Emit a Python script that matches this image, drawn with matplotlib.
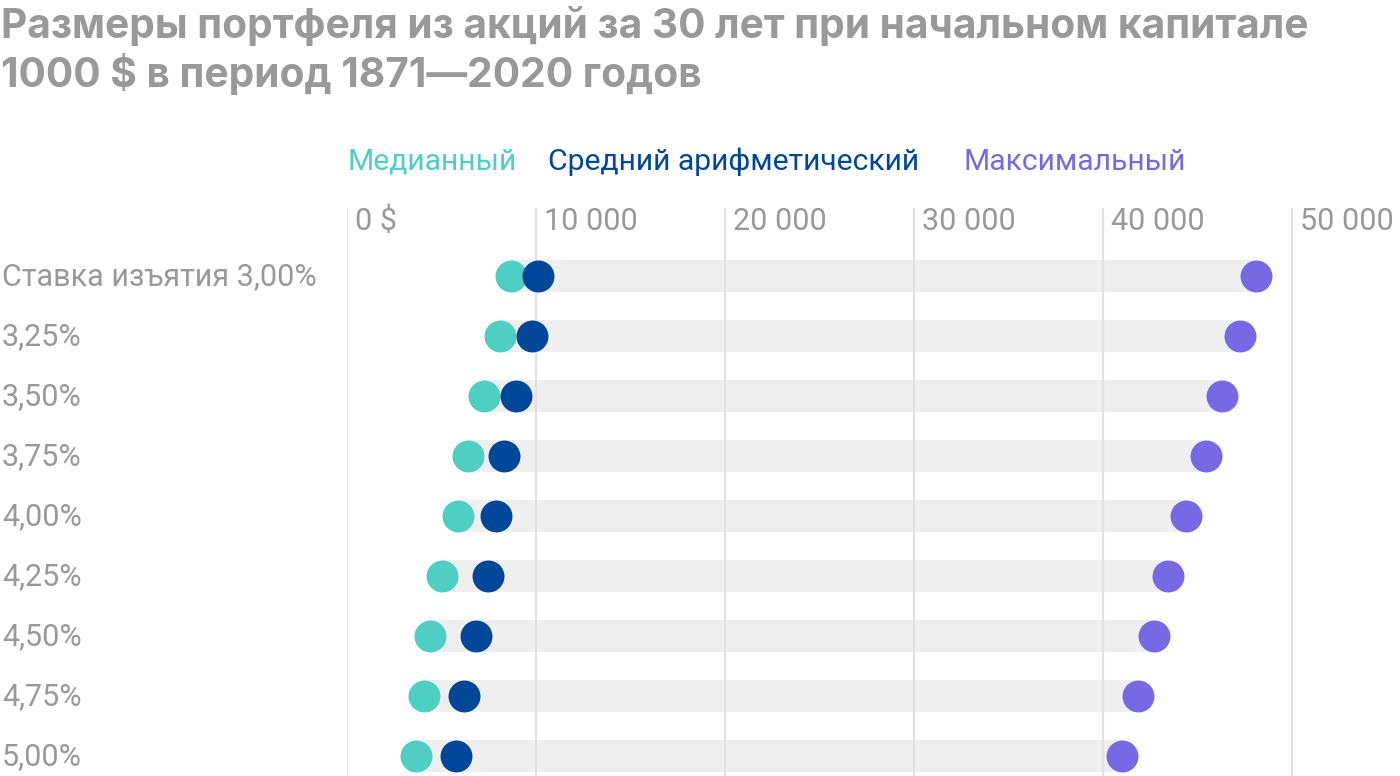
import matplotlib
matplotlib.use("Agg")
import matplotlib.pyplot as plt
import matplotlib.transforms as mtransforms

plt.rcParams['font.family'] = ['Roboto', 'DejaVu Sans']

# ---- data ----
categories = ["Ставка изъятия 3,00%", "3,25%", "3,50%", "3,75%", "4,00%",
              "4,25%", "4,50%", "4,75%", "5,00%"]
median_vals = [8700, 8100, 7250, 6400, 5870, 5030, 4390, 4080, 3650]
mean_vals = [10100, 9770, 8940, 8300, 7880, 7460, 6830, 6190, 5770]
max_vals = [48100, 47250, 46300, 45450, 44390, 43440, 42700, 41850, 41000]
tick_values = [0, 10000, 20000, 30000, 40000, 50000]
tick_labels = ["0 $", "10 000", "20 000", "30 000", "40 000", "50 000"]
series_names = ["Медианный", "Средний арифметический", "Максимальный"]
title = "Размеры портфеля из акций за 30 лет при начальном капитале\n1000 $ в период 1871—2020 годов"

# ---- style ----
W, H = 1400, 776
C_MED = "#4fcec4"
C_MEAN = "#00479a"
C_MAX = "#7868e3"
GRAY = "#999999"
BAR = "#efefef"
GRID = "#e2e2e2"
FS = 22.0

fig = plt.figure(figsize=(W / 100, H / 100), dpi=100)

# axes: x 0 -> px 347, 50000 -> px 1292
px_per_unit = (1292 - 347) / 50000
ax_left, ax_right = 347, 1400
ax_top, ax_bot = 208, 776
ax = fig.add_axes([ax_left / W, 1 - ax_bot / H, (ax_right - ax_left) / W, (ax_bot - ax_top) / H])
ax.set_xlim(0, (ax_right - ax_left) / px_per_unit)
row_px = 60
ax.set_ylim(8 + (ax_bot - 756) / row_px, 0 - (276 - ax_top) / row_px)
ax.axis("off")

y = list(range(len(categories)))
# background bars from median to max
ax.barh(y, [mx - md for mx, md in zip(max_vals, median_vals)], left=median_vals,
        height=32 / row_px, color=BAR, zorder=1)
# vertical grid lines
for tv in tick_values:
    ax.axvline(tv, color=GRID, lw=1.6, zorder=2)
# tick labels
for tv, tl in zip(tick_values, tick_labels):
    ax.text(tv + 8 / px_per_unit, -1.133 + (230 - ax_top) / row_px, tl, color=GRAY,
            fontsize=FS, ha="left", va="baseline", zorder=3)

ms = 23
ax.scatter(median_vals, y, s=ms ** 2, color=C_MED, zorder=4, linewidths=0)
ax.scatter(mean_vals, y, s=ms ** 2, color=C_MEAN, zorder=5, linewidths=0)
ax.scatter(max_vals, y, s=ms ** 2, color=C_MAX, zorder=5, linewidths=0)

# category labels
trans = mtransforms.blended_transform_factory(fig.transFigure, ax.transData)
for i, c in enumerate(categories):
    ax.text(2 / W, i + 9 / row_px, c, transform=trans, color=GRAY, fontsize=FS,
            ha="left", va="baseline", clip_on=False)

# legend
for name, col, xp in zip(series_names, [C_MED, C_MEAN, C_MAX], [348, 548, 963]):
    fig.text(xp / W, 1 - 170 / H, name, color=col, fontsize=21.7, ha="left", va="baseline")

# title
lines = title.split("\n")
for line, bl in zip(lines, [38, 87]):
    fig.text(1 / W, 1 - bl / H, line, color=GRAY, fontsize=29.3, fontweight="bold",
             family=["Inter", "Roboto", "DejaVu Sans"], ha="left", va="baseline")

fig.savefig("out.png", dpi=100)
